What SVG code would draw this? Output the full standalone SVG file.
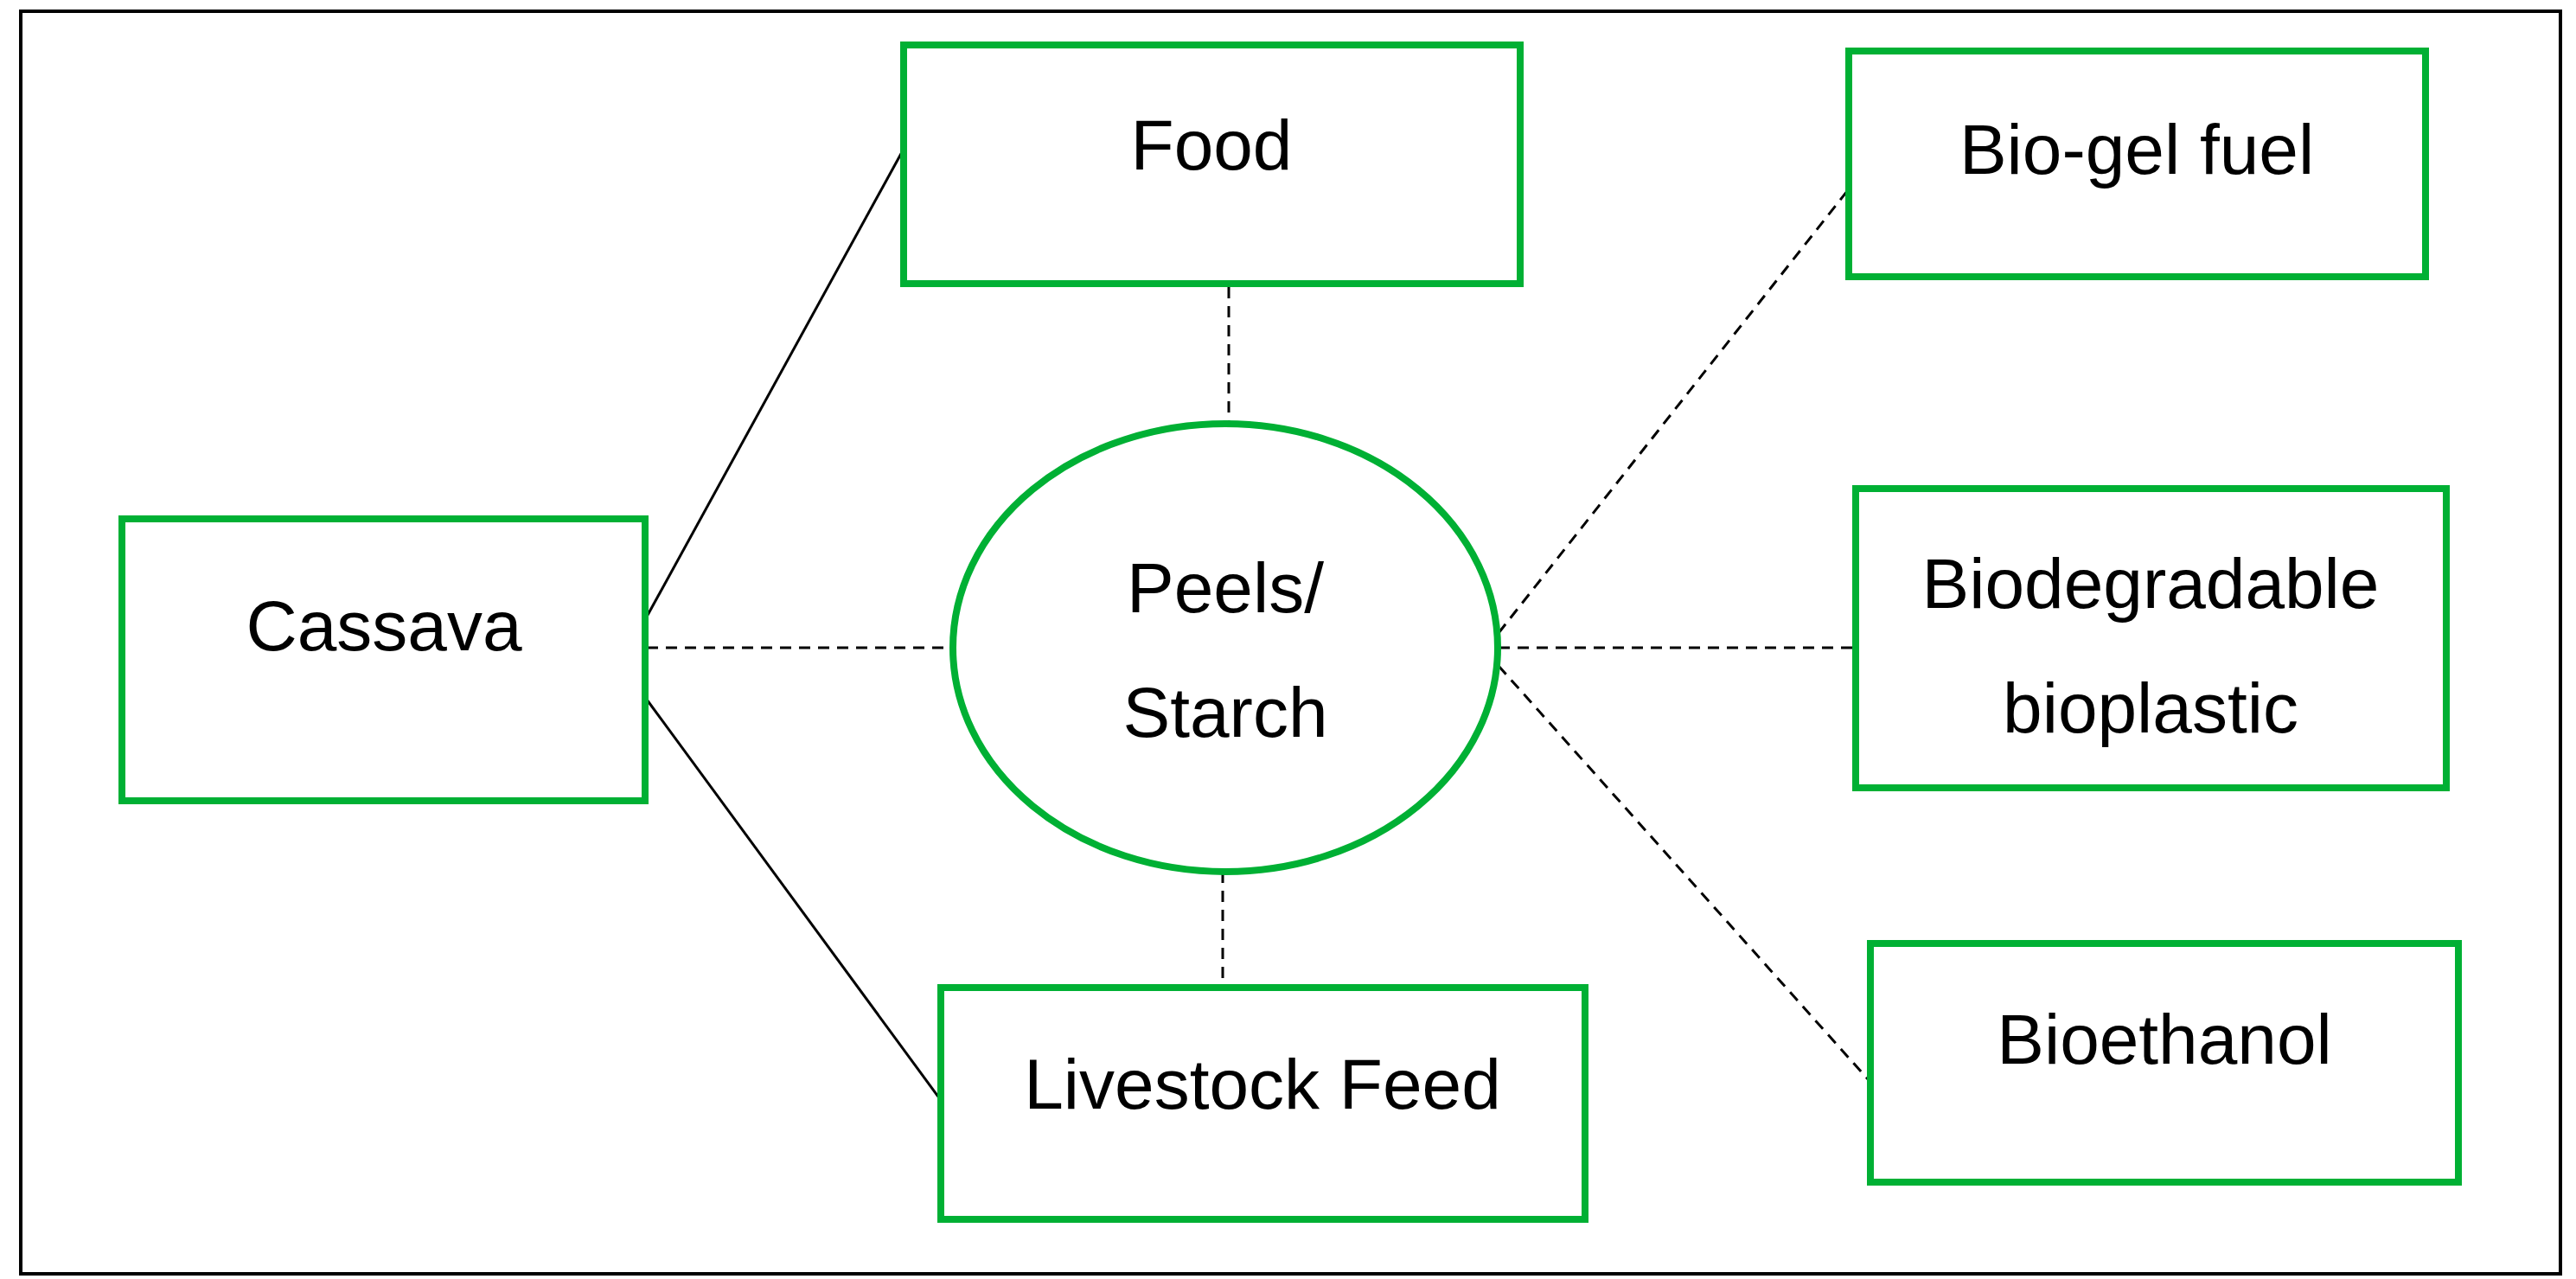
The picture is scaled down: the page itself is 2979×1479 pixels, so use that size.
<svg xmlns="http://www.w3.org/2000/svg" width="2979" height="1479" viewBox="0 0 2979 1479">
<style>
.box{fill:#fff;stroke:#00b034;stroke-width:8}
.t{font-family:"Liberation Sans",Arial,sans-serif;font-size:82px;fill:#000;text-anchor:middle}
.s{stroke:#000;stroke-width:3;fill:none}
.d{stroke:#000;stroke-width:3;fill:none;stroke-dasharray:13 9}
</style>
<rect x="0" y="0" width="2979" height="1479" fill="#fff"/>
<rect x="24" y="13" width="2937" height="1460" fill="none" stroke="#000" stroke-width="4"/>
<g id="connectors">
<line class="s" x1="748" y1="713" x2="1049" y2="165"/>
<line class="s" x1="748" y1="809" x2="1090" y2="1275"/>
<line class="d" x1="748" y1="749" x2="1102" y2="749"/>
<line class="d" x1="1421" y1="332" x2="1421" y2="490"/>
<line class="d" x1="1414" y1="1008" x2="1414" y2="1140"/>
<line class="d" x1="1733" y1="732" x2="2144" y2="211"/>
<line class="d" x1="1733" y1="749" x2="2144" y2="749"/>
<line class="d" x1="1733" y1="770" x2="2161" y2="1249"/>
</g>
<g id="cassava"><rect class="box" x="141" y="600" width="605" height="326"/><text class="t" x="444" y="752">Cassava</text></g>
<g id="food"><rect class="box" x="1045" y="52" width="713" height="276"/><text class="t" x="1401" y="196">Food</text></g>
<g id="peels"><ellipse class="box" cx="1417" cy="749" rx="315" ry="259"/><text class="t" x="1417" y="708">Peels/</text><text class="t" x="1417" y="852">Starch</text></g>
<g id="livestock"><rect class="box" x="1088" y="1142" width="745" height="268"/><text class="t" x="1460" y="1282">Livestock Feed</text></g>
<g id="biogel"><rect class="box" x="2138" y="59" width="667" height="261"/><text class="t" x="2471" y="201">Bio-gel fuel</text></g>
<g id="bioplastic"><rect class="box" x="2146" y="565" width="683" height="346"/><text class="t" x="2487" y="703">Biodegradable</text><text class="t" x="2487" y="847">bioplastic</text></g>
<g id="bioethanol"><rect class="box" x="2163" y="1091" width="680" height="276"/><text class="t" x="2503" y="1230">Bioethanol</text></g>
</svg>
